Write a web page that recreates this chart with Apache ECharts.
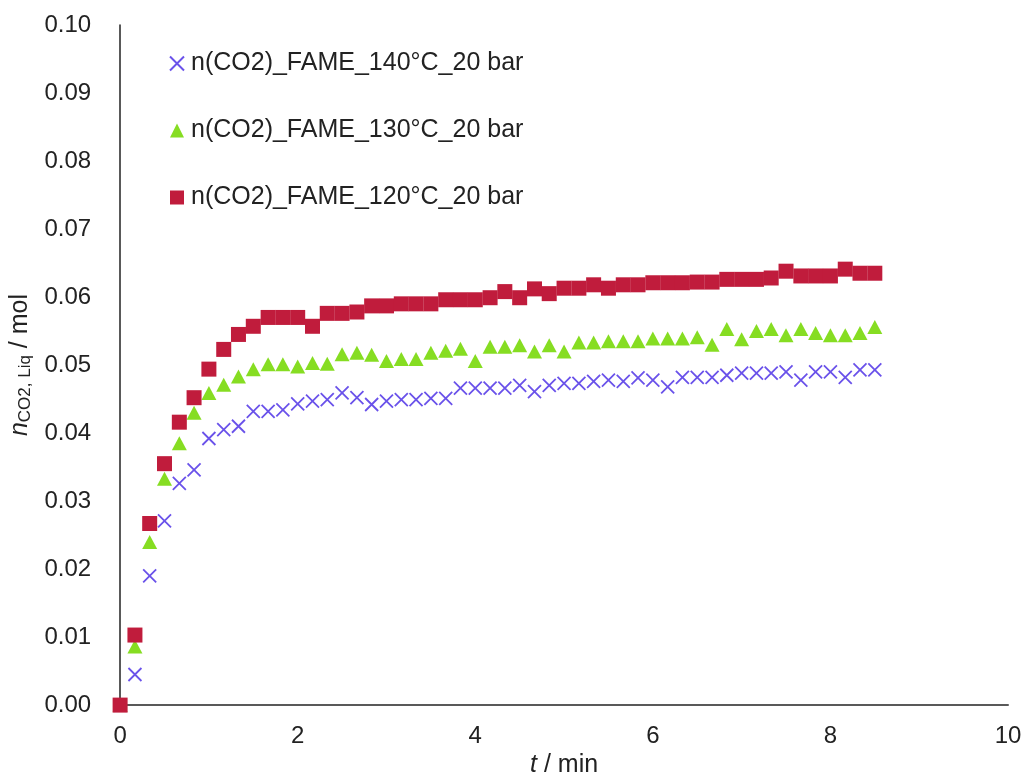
<!DOCTYPE html>
<html>
<head>
<meta charset="utf-8">
<script src="https://cdn.jsdelivr.net/npm/echarts@6/dist/echarts.min.js"></script>
<style>
html,body{margin:0;padding:0;background:#fff;}
#c{width:1025px;height:783px;}
</style>
</head>
<body>
<div id="c"></div>
<script>
const times = [0, 0.167, 0.333, 0.5, 0.667, 0.833, 1.0, 1.167, 1.333, 1.5, 1.667, 1.833, 2.0, 2.167, 2.333, 2.5, 2.667, 2.833, 3.0, 3.167, 3.333, 3.5, 3.667, 3.833, 4.0, 4.167, 4.333, 4.5, 4.667, 4.833, 5.0, 5.167, 5.333, 5.5, 5.667, 5.833, 6.0, 6.167, 6.333, 6.5, 6.667, 6.833, 7.0, 7.167, 7.333, 7.5, 7.667, 7.833, 8.0, 8.167, 8.333, 8.5];

const n140 = [0, 0.0045, 0.0190, 0.0271, 0.0326, 0.0346, 0.0392, 0.0405, 0.0410, 0.0432, 0.0432, 0.0434, 0.0443, 0.0447, 0.0449, 0.0459, 0.0452, 0.0442, 0.0447, 0.0449, 0.0449, 0.0451, 0.0451, 0.0466, 0.0466, 0.0466, 0.0466, 0.0470, 0.0461, 0.0470, 0.0473, 0.0473, 0.0476, 0.0478, 0.0476, 0.0481, 0.0478, 0.0468, 0.0482, 0.0482, 0.0482, 0.0485, 0.0488, 0.0488, 0.0488, 0.0490, 0.0478, 0.0490, 0.0490, 0.0482, 0.0493, 0.0493];

const n130 = [0, 0.0086, 0.0240, 0.0333, 0.0385, 0.0430, 0.0459, 0.0471, 0.0483, 0.0494, 0.0501, 0.0501, 0.0498, 0.0503, 0.0502, 0.0516, 0.0518, 0.0515, 0.0506, 0.0509, 0.0509, 0.0518, 0.0521, 0.0524, 0.0506, 0.0527, 0.0527, 0.0529, 0.0520, 0.0529, 0.0520, 0.0533, 0.0533, 0.0535, 0.0535, 0.0535, 0.0539, 0.0539, 0.0539, 0.0541, 0.0530, 0.0553, 0.0538, 0.0550, 0.0553, 0.0544, 0.0553, 0.0547, 0.0544, 0.0544, 0.0547, 0.0556];

const n120 = [0, 0.0103, 0.0267, 0.0355, 0.0416, 0.0452, 0.0494, 0.0523, 0.0545, 0.0557, 0.0570, 0.0570, 0.0570, 0.0557, 0.0576, 0.0576, 0.0578, 0.0587, 0.0587, 0.0590, 0.0590, 0.0590, 0.0596, 0.0596, 0.0596, 0.0599, 0.0608, 0.0599, 0.0612, 0.0605, 0.0613, 0.0613, 0.0618, 0.0613, 0.0618, 0.0618, 0.0621, 0.0621, 0.0621, 0.0622, 0.0622, 0.0626, 0.0626, 0.0626, 0.0628, 0.0638, 0.0631, 0.0631, 0.0631, 0.0641, 0.0635, 0.0635];

const seriesNames = ['n(CO2)_FAME_140°C_20 bar', 'n(CO2)_FAME_130°C_20 bar', 'n(CO2)_FAME_120°C_20 bar'];
const xTicks = [0, 2, 4, 6, 8, 10];

function pairs(vals) { return times.map((t, i) => [t, vals[i]]); }

const FONT = '"Liberation Sans", Arial, sans-serif';
const TXT = '#222';
const chart = echarts.init(document.getElementById('c'), null, {renderer: 'canvas'});
chart.setOption({
  animation: false,
  backgroundColor: '#ffffff',
  grid: {left: 120, right: 17, top: 25, bottom: 68, containLabel: false},
  legend: {
    orient: 'vertical',
    left: 164,
    top: 46,
    itemWidth: 14,
    itemHeight: 14,
    itemGap: 42,
    textStyle: {fontFamily: FONT, fontSize: 25, color: TXT, padding: [0, 0, 0, 2]},
    data: seriesNames
  },
  xAxis: {
    type: 'value', min: 0, max: 10, interval: 2,
    name: '{i|t} / min',
    nameLocation: 'middle', nameGap: 45,
    nameTextStyle: {fontFamily: FONT, fontSize: 25, color: TXT,
      rich: {i: {fontStyle: 'italic', fontFamily: FONT, fontSize: 25, color: TXT}}},
    axisLine: {show: true, lineStyle: {color: '#595959', width: 2}},
    axisTick: {show: false},
    splitLine: {show: false},
    axisLabel: {fontFamily: FONT, fontSize: 24, color: TXT, margin: 19,
      formatter: v => xTicks.includes(v) ? String(v) : ''}
  },
  yAxis: {
    type: 'value', min: 0, max: 0.1, interval: 0.01,
    name: '{i|n}{s|CO2, Liq} / mol',
    nameLocation: 'middle', nameGap: 75, nameRotate: 90,
    nameTextStyle: {fontFamily: FONT, fontSize: 25, color: TXT,
      rich: {
        i: {fontStyle: 'italic', fontFamily: FONT, fontSize: 25, color: TXT},
        s: {fontFamily: FONT, fontSize: 17, color: TXT, verticalAlign: 'bottom', padding: [9, 0, 0, 0]}
      }},
    axisLine: {show: true, lineStyle: {color: '#222', width: 1.5}},
    axisTick: {show: false},
    splitLine: {show: false},
    axisLabel: {fontFamily: FONT, fontSize: 24, color: TXT, margin: 29,
      formatter: v => v.toFixed(2)}
  },
  series: [
    {
      name: seriesNames[0], type: 'scatter', data: pairs(n140),
      symbol: 'path://M0,0L10,10M10,0L0,10', symbolSize: 13,
      itemStyle: {color: '#6A52EA', borderColor: '#6A52EA', borderWidth: 1.8, opacity: 1}
    },
    {
      name: seriesNames[1], type: 'scatter', data: pairs(n130),
      symbol: 'triangle', symbolSize: [15, 14],
      itemStyle: {color: '#86DD22', opacity: 1}
    },
    {
      name: seriesNames[2], type: 'scatter', data: pairs(n120),
      symbol: 'rect', symbolSize: 15,
      itemStyle: {color: '#C01C3C', opacity: 1}
    }
  ]
});
</script>
</body>
</html>
